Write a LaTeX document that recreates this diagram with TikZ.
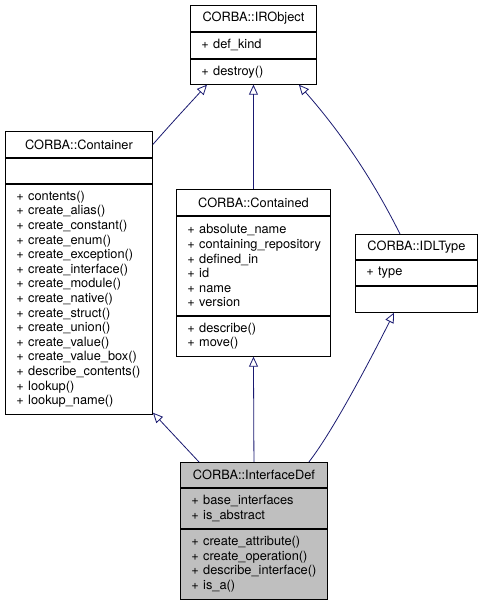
\documentclass[tikz,border=0pt]{standalone}
\usepackage{fontspec}
\setmainfont{TeX Gyre Heros}
\usetikzlibrary{positioning,arrows.meta}
\definecolor{edgeblue}{HTML}{191970}
\definecolor{focusgray}{HTML}{BFBFBF}
\newcommand{\umlfont}{\fontsize{12.8}{14.6}\selectfont\hyphenpenalty=10000\relax\exhyphenpenalty=10000\relax}

\begin{document}
\begin{tikzpicture}[x=1pt,y=1pt,
    compartment/.style={rectangle, draw, line width=0.9pt, inner xsep=11pt, inner ysep=0pt,
      font=\umlfont, align=left},
    classname/.style={compartment, align=center, minimum height=26pt},
    inherit/.style={draw=edgeblue, line width=0.8pt, -{Triangle[open,length=10pt,width=9pt]}}
    ]
    \useasboundingbox (0,0) rectangle (483,603);

    % IRObject
    \node[classname, text width=104pt, anchor=north west] (irot) at (190,598) {CORBA::IRObject};
    \node[compartment, text width=104pt, minimum height=26pt, below=0pt of irot] (iroa) {+ def\_kind};
    \node[compartment, text width=104pt, minimum height=25pt, below=0pt of iroa] (irom) {+ destroy()};

    % Container
    \node[classname, text width=125pt, anchor=north west] (contt) at (5,472) {CORBA::Container};
    \node[compartment, text width=125pt, minimum height=25pt, below=0pt of contt] (conta) {};
    \node[compartment, text width=125pt, minimum height=230pt, below=0pt of conta] (contm)
      {+ contents()\\+ create\_alias()\\+ create\_constant()\\+ create\_enum()\\
       + create\_exception()\\+ create\_interface()\\+ create\_module()\\+ create\_native()\\
       + create\_struct()\\+ create\_union()\\+ create\_value()\\+ create\_value\_box()\\
       + describe\_contents()\\+ lookup()\\+ lookup\_name()};

    % Contained
    \node[classname, text width=132pt, anchor=north west] (cdtt) at (176,414) {CORBA::Contained};
    \node[compartment, text width=132pt, minimum height=99pt, below=0pt of cdtt] (cdta)
      {+ absolute\_name\\+~containing\_repository\\+ defined\_in\\+ id\\+ name\\+ version};
    \node[compartment, text width=132pt, minimum height=40pt, below=0pt of cdta] (cdtm)
      {+ describe()\\+ move()};

    % IDLType
    \node[classname, text width=100pt, minimum height=25pt, anchor=north west] (idlt) at (355,369) {CORBA::IDLType};
    \node[compartment, text width=100pt, minimum height=25pt, below=0pt of idlt] (idla) {+ type};
    \node[compartment, text width=100pt, minimum height=26pt, below=0pt of idla] (idlm) {};

    % InterfaceDef
    \node[classname, fill=focusgray, text width=125pt, minimum height=25pt, anchor=north west] (ifdt) at (180,141) {CORBA::InterfaceDef};
    \node[compartment, fill=focusgray, text width=125pt, minimum height=40pt, below=0pt of ifdt] (ifda)
      {+ base\_interfaces\\+ is\_abstract};
    \node[compartment, fill=focusgray, text width=125pt, minimum height=70pt, below=0pt of ifda] (ifdm)
      {+ create\_attribute()\\+ create\_operation()\\+ describe\_interface()\\+ is\_a()};

    % inheritance
    \draw[inherit] (contt.east) .. controls +(22,25) and +(-22,-24) .. ([xshift=17pt]irom.south west);
    \draw[inherit] (cdtt.north) -- (irom.south);
    \draw[inherit] ([xshift=45pt]idlt.north west) .. controls +(-25,50) and +(45,-51) .. ([xshift=-18pt]irom.south east);
    \draw[inherit] ([xshift=19pt]ifdt.north west) -- ([yshift=2pt]contm.south east);
    \draw[inherit] (ifdt.north) -- (cdtm.south);
    \draw[inherit] ([xshift=-19pt]ifdt.north east) .. controls +(25,32) and +(-20,-40) .. ([xshift=39pt]idlm.south west);
\end{tikzpicture}
\end{document}
